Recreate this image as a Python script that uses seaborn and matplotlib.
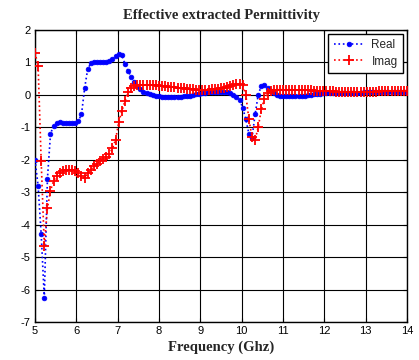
import numpy as np
import pandas as pd
import matplotlib
matplotlib.use("Agg")
import matplotlib.pyplot as plt
import seaborn as sns

# sampling grid of frequency (GHz)
freq = np.round(5 + 0.075 * np.arange(121), 3)

real = [
    -2.0, -2.8, -4.3, -6.25, -2.6, -1.2, -0.95, -0.87, -0.85, -0.86,
    -0.87, -0.87, -0.87, -0.86, -0.8, -0.6, 0.2, 0.8, 0.97, 1.0,
    1.0, 1.0, 1.0, 1.0, 1.05, 1.1, 1.2, 1.27, 1.23, 0.95,
    0.75, 0.55, 0.4, 0.28, 0.18, 0.1, 0.05, 0.02, 0.0, -0.03,
    -0.04, -0.05, -0.05, -0.05, -0.05, -0.05, -0.05, -0.05, -0.04, -0.03,
    -0.02, 0.0, 0.02, 0.04, 0.06, 0.07, 0.08, 0.09, 0.1, 0.1,
    0.1, 0.1, 0.08, 0.05, 0.0, -0.05, -0.15, -0.4, -0.75, -1.2,
    -1.33, -0.6, 0.0, 0.28, 0.32, 0.22, 0.12, 0.05, 0.0, -0.02,
    -0.03, -0.04, -0.04, -0.04, -0.04, -0.03, -0.03, -0.02, -0.01, 0.0,
    0.02, 0.03, 0.04, 0.05, 0.05, 0.05, 0.05, 0.05, 0.05, 0.05,
    0.05, 0.06, 0.06, 0.07, 0.07, 0.07, 0.08, 0.08, 0.08, 0.08,
    0.09, 0.09, 0.09, 0.1, 0.1, 0.1, 0.1, 0.1, 0.1, 0.1,
    0.1,
]

imag = [
    1.3, 0.9, -2.05, -4.65, -3.5, -2.95, -2.65, -2.5, -2.42, -2.35,
    -2.32, -2.31, -2.31, -2.34, -2.42, -2.5, -2.57, -2.42, -2.3, -2.2,
    -2.12, -2.05, -1.97, -1.9, -1.82, -1.65, -1.38, -0.85, -0.5, -0.2,
    0.1, 0.2, 0.27, 0.3, 0.31, 0.31, 0.31, 0.3, 0.3, 0.29,
    0.28, 0.27, 0.26, 0.25, 0.24, 0.23, 0.22, 0.21, 0.2, 0.19,
    0.18, 0.17, 0.16, 0.15, 0.15, 0.15, 0.16, 0.17, 0.18, 0.19,
    0.2, 0.22, 0.24, 0.27, 0.3, 0.33, 0.35, 0.3, 0.0, -0.75,
    -1.3, -1.38, -1.0, -0.45, -0.12, 0.05, 0.12, 0.15, 0.16, 0.16,
    0.16, 0.16, 0.16, 0.15, 0.15, 0.15, 0.15, 0.14, 0.14, 0.14,
    0.13, 0.13, 0.12, 0.12, 0.12, 0.11, 0.11, 0.1, 0.1, 0.1,
    0.1, 0.1, 0.1, 0.1, 0.1, 0.1, 0.1, 0.1, 0.1, 0.1,
    0.1, 0.11, 0.11, 0.11, 0.12, 0.12, 0.12, 0.12, 0.13, 0.13,
    0.13,
]

x_ticks = [5, 6, 7, 8, 9, 10, 11, 12, 13, 14]
y_ticks = [-7, -6, -5, -4, -3, -2, -1, 0, 1, 2]
title = "Effective extracted Permittivity"
xlabel = "Frequency (Ghz)"

sns.set_style("white")
plt.rcParams["font.family"] = ["Liberation Sans", "DejaVu Sans"]

fig = plt.figure(figsize=(4.19, 3.60), dpi=100)
ax = fig.add_axes([35 / 419, 1 - 322 / 360, (407 - 35) / 419, (322 - 30) / 360])

df = pd.DataFrame({"freq": freq, "Real": real, "Imag": imag})

sns.lineplot(data=df, x="freq", y="Real", ax=ax, color="#0000ff", linestyle=":",
             linewidth=1.2, marker="o", markersize=3.4, markeredgewidth=0.5,
             markeredgecolor="#0000ff", markerfacecolor="#0000ff",
             label="Real", zorder=3)
sns.lineplot(data=df, x="freq", y="Imag", ax=ax, color="#ff0000", linestyle=":",
             linewidth=1.2, marker="+", markersize=7, markeredgewidth=1.3,
             markeredgecolor="#ff0000", markerfacecolor="#ff0000",
             label="Imag", zorder=4)

ax.set_xlim(5, 14)
ax.set_ylim(-7, 2)
ax.set_xticks(x_ticks)
ax.set_yticks(y_ticks)
ax.set_xticklabels([str(t) for t in x_ticks], fontsize=8)
ax.set_yticklabels([str(t) for t in y_ticks], fontsize=8)
ax.tick_params(direction="in", length=3, width=0.8, top=True, right=True,
               bottom=True, left=True, pad=3, colors="black")
ax.grid(True, color="black", linewidth=0.8, linestyle="-")
ax.set_axisbelow(True)
for s in ax.spines.values():
    s.set_color("black")
    s.set_linewidth(1.0)

ax.set_title(title, fontsize=10.5, fontweight="bold",
             family=["Liberation Serif", "DejaVu Serif"], pad=8)
ax.set_xlabel(xlabel, fontsize=10.5, fontweight="bold",
              family=["Liberation Serif", "DejaVu Serif"], labelpad=3)
ax.set_ylabel("")

leg = ax.legend(loc="upper right", fontsize=8.5, frameon=True, fancybox=False,
                edgecolor="black", framealpha=1, borderpad=0.45,
                handlelength=2.6, handletextpad=0.6, borderaxespad=0.35,
                labelspacing=0.35)
leg.get_frame().set_linewidth(1.0)

fig.savefig("out.png", dpi=100)
